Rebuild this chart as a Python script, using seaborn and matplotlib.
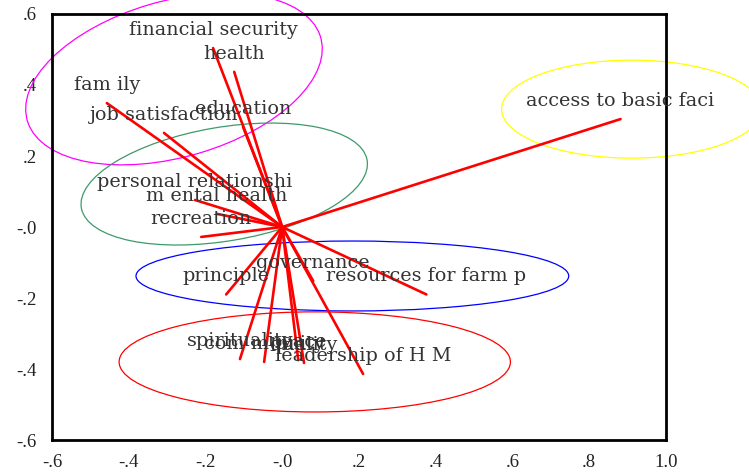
import pandas as pd
import matplotlib
matplotlib.use("Agg")
import matplotlib.pyplot as plt
from matplotlib.patches import Ellipse
import seaborn as sns

# =========================
# DATA
# =========================

items = ["financial security", "health", "fam ily", "job satisfaction", "education",
         "personal relationshi", "m ental health", "recreation", "access to basic faci",
         "governance", "principle", "resources for farm p", "spirituality", "peace",
         "com m unity", "quality", "leadership of H M"]
dim1 = [-0.180, -0.125, -0.457, -0.308, -0.102,
        -0.227, -0.170, -0.211, 0.882,
        0.081, -0.146, 0.376, -0.110, 0.042,
        -0.047, 0.057, 0.211]
dim2 = [0.504, 0.437, 0.349, 0.265, 0.282,
        0.076, 0.037, -0.028, 0.304,
        -0.152, -0.190, -0.190, -0.372, -0.375,
        -0.380, -0.383, -0.414]

# group ellipses: centre, width, height, angle, colour
ell_cx = [-0.282, -0.151, 0.183, 0.085, 0.911]
ell_cy = [0.417, 0.121, -0.138, -0.380, 0.332]
ell_w = [0.800, 0.757, 1.128, 1.020, 0.678]
ell_h = [0.438, 0.320, 0.197, 0.282, 0.276]
ell_angle = [17.9, 10.5, 0, 0, 0]
ell_color = ["#ff00ff", "#3c9a6a", "#0000ff", "#ff0000", "#ffff00"]

xticks = [-0.6, -0.4, -0.2, 0.0, 0.2, 0.4, 0.6, 0.8, 1.0]
xticklabels = ["-.6", "-.4", "-.2", "-.0", ".2", ".4", ".6", ".8", "1.0"]
yticks = [-0.6, -0.4, -0.2, 0.0, 0.2, 0.4, 0.6]
yticklabels = ["-.6", "-.4", "-.2", "-.0", ".2", ".4", ".6"]

# =========================
# VECTORS AS LONG TABLE
# =========================

rows = []
for name, x, y in zip(items, dim1, dim2):
    rows.append({"item": name, "x": 0.0, "y": 0.0, "step": 0})
    rows.append({"item": name, "x": x, "y": y, "step": 1})
df = pd.DataFrame(rows)

# =========================
# PLOT
# =========================

sns.set_style("white")
plt.rcParams["font.family"] = ["Liberation Serif", "DejaVu Serif"]

fig = plt.figure(figsize=(7.49, 4.76), dpi=100)
ax = fig.add_axes([0.0694, 0.0756, 0.8195, 0.895])

sns.lineplot(data=df, x="x", y="y", units="item", estimator=None, sort=False,
             color="#ff0000", linewidth=1.9, ax=ax)

for cx, cy, w, h, a, c in zip(ell_cx, ell_cy, ell_w, ell_h, ell_angle, ell_color):
    ax.add_patch(Ellipse((cx, cy), w, h, angle=a, fill=False, edgecolor=c,
                         linewidth=0.9, clip_on=False))

for name, x, y in zip(items, dim1, dim2):
    ax.annotate(name, (x, y), xytext=(0, 13), textcoords="offset points",
                ha="center", va="center", fontsize=13.8, color="#333333",
                family="DejaVu Serif", annotation_clip=False)

ax.set_xlim(-0.6, 1.0)
ax.set_ylim(-0.6, 0.6)
ax.set_xticks(xticks)
ax.set_xticklabels(xticklabels)
ax.set_yticks(yticks)
ax.set_yticklabels(yticklabels)
ax.set_xlabel("")
ax.set_ylabel("")
ax.tick_params(direction="out", length=4, width=4, color="black",
               labelsize=13.5, labelcolor="#222222")
ax.tick_params(axis="x", pad=6)
ax.tick_params(axis="y", pad=7)
for s in ax.spines.values():
    s.set_color("black")
    s.set_linewidth(2)

plt.savefig("out.png", dpi=100)
